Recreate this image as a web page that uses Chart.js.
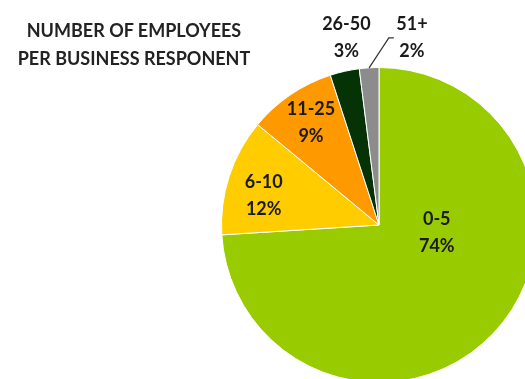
<!DOCTYPE html>
<html>
<head>
<meta charset="utf-8">
<script src="https://cdn.jsdelivr.net/npm/chart.js@4/dist/chart.umd.min.js"></script>
<style>
  html, body { margin: 0; padding: 0; background: #fff; }
  body { width: 525px; height: 379px; overflow: hidden; position: relative; }
  #wrap { position: absolute; left: 0; top: 0; }
  #title {
    position: absolute; left: 0; top: 16px; width: 268px;
    font-family: Lato, "Open Sans", sans-serif; font-weight: 700; font-size: 18px;
    line-height: 28px; text-align: center; color: #222; z-index: 2;
  }
</style>
</head>
<body>
<div id="title">NUMBER OF EMPLOYEES<br>PER BUSINESS RESPONENT</div>
<div id="wrap"><canvas id="pie" width="758" height="450"></canvas></div>
<script>
// Employees per business respondent
const categories = ['0-5', '6-10', '11-25', '26-50', '51+'];
const shares = [74, 12, 9, 3, 2];
const sliceColors = ['#99CC00', '#FFCC00', '#FF9900', '#063306', '#8C8C8C'];

// Where each label sits: angle shift from slice middle (deg) and radius fraction
const labelPlacement = [
  { shift: -35.6, r: 0.37 },
  { shift: -3.8, r: 0.755 },
  { shift: 0.6, r: 0.78 },
  { shift: 2.7, r: 1.205 },
  { shift: 13.6, r: 1.205, leader: true }
];

const sliceLabels = {
  id: 'sliceLabels',
  afterDatasetsDraw(chart) {
    const ctx = chart.ctx;
    const meta = chart.getDatasetMeta(0);
    ctx.save();
    ctx.font = '700 18px Lato, "Open Sans", sans-serif';
    ctx.textAlign = 'center';
    ctx.textBaseline = 'middle';
    meta.data.forEach((arc, i) => {
      const p = arc.getProps(['x', 'y', 'startAngle', 'endAngle', 'outerRadius'], true);
      const mid = (p.startAngle + p.endAngle) / 2;
      const spec = labelPlacement[i];
      const a = mid + spec.shift * Math.PI / 180;
      const cx = p.x + Math.cos(a) * p.outerRadius * spec.r;
      const cy = p.y + Math.sin(a) * p.outerRadius * spec.r;
      if (spec.leader) {
        const ex = p.x + Math.cos(mid) * p.outerRadius;
        const ey = p.y + Math.sin(mid) * p.outerRadius;
        const la = -Math.PI / 2 + 3 * Math.PI / 180;
        const tx = p.x + Math.cos(la) * p.outerRadius * 1.19;
        const ty = p.y + Math.sin(la) * p.outerRadius * 1.19;
        ctx.strokeStyle = '#333';
        ctx.lineWidth = 1.2;
        ctx.beginPath();
        ctx.moveTo(ex, ey);
        ctx.lineTo(tx, ty);
        ctx.lineTo(tx + 5, ty);
        ctx.stroke();
      }
      ctx.fillStyle = '#1a1a1a';
      ctx.fillText(categories[i], cx, cy - 13.5);
      ctx.fillText(shares[i] + '%', cx, cy + 13.5);
    });
    ctx.restore();
  }
};

new Chart(document.getElementById('pie'), {
  type: 'pie',
  data: {
    labels: categories,
    datasets: [{
      data: shares,
      backgroundColor: sliceColors,
      borderColor: '#ffffff',
      borderWidth: 1
    }]
  },
  options: {
    responsive: false,
    animation: false,
    devicePixelRatio: 1,
    layout: { padding: { top: 67, bottom: 67, left: 0, right: 0 } },
    plugins: {
      legend: { display: false },
      tooltip: { enabled: false },
      title: { display: false }
    }
  },
  plugins: [sliceLabels]
});
</script>
</body>
</html>
